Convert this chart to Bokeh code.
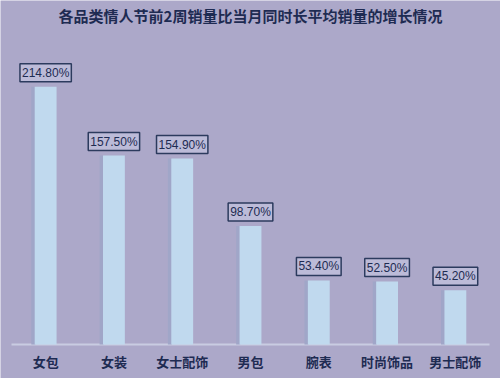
from bokeh.plotting import figure
from bokeh.models import ColumnDataSource, Range1d, FactorRange
from bokeh.core.properties import value
from bokeh.transform import dodge
from bokeh.embed import file_html
from bokeh.resources import INLINE

title_text = "各品类情人节前2周销量比当月同时长平均销量的增长情况"
categories = ["女包", "女装", "女士配饰", "男包", "腕表", "时尚饰品", "男士配饰"]
growth = [214.8, 157.5, 154.9, 98.7, 53.4, 52.5, 45.2]
label_texts = ["214.80%", "157.50%", "154.90%", "98.70%", "53.40%", "52.50%", "45.20%"]

BG = "#aca8c9"
NAVY = "#1e2b52"

src = ColumnDataSource(dict(cat=categories, val=growth, lab=label_texts,
                            zero=[0] * len(categories)))
base_src = ColumnDataSource(dict(first=[categories[0]], last=[categories[-1]], y=[0]))

# frame fills the whole canvas; 11px of padding each side of the category band,
# y=0 sits 34px above the bottom edge (1.2 px per unit)
xr = FactorRange(*categories, range_padding=0.161, range_padding_units="absolute")
p = figure(width=500, height=378, x_range=xr,
           y_range=Range1d(-28.33, 286.67), output_backend="svg", toolbar_location=None,
           min_border=0)

p.background_fill_color = BG
p.border_fill_color = BG
p.outline_line_color = None
p.grid.grid_line_color = None
p.xaxis.visible = False
p.yaxis.visible = False

# baseline
p.segment(x0=dodge("first", -0.5, range=xr), x1=dodge("last", 0.5, range=xr),
          y0="y", y1="y", source=base_src, line_color="#c9cce2", line_width=2)

# subtle shadow strip on the left of each bar
p.vbar(x=dodge("cat", -0.18, range=xr), top="val", width=0.06, source=src,
       fill_color="#a0a6c8", line_color=None)
p.vbar(x="cat", top="val", width=0.32, source=src, fill_color="#c0d9ee", line_color=None)

# value labels in boxes
p.text(x="cat", y="val", text="lab", source=src, text_align="center",
       text_baseline="bottom", y_offset=-5, text_font=value("Liberation Sans"),
       text_font_size="12px", text_color=NAVY,
       background_fill_color="#bcbbd8", border_line_color="#2c3b5e",
       border_line_width=1.5, padding=2)

# category labels under the baseline
p.text(x="cat", y="zero", text="cat", source=src, text_align="center",
       text_baseline="middle", y_offset=17, text_font=value("Noto Sans CJK SC"),
       text_font_size="13px", text_font_style="bold", text_color=NAVY)

# title
p.text(x=[categories[3]], y=[274.2], text=[title_text], text_align="center",
       text_baseline="middle", text_font=value("Noto Sans CJK SC"),
       text_font_size="15px", text_font_style="bold", text_color=NAVY)

open("out.html", "w").write(file_html(p, INLINE))
